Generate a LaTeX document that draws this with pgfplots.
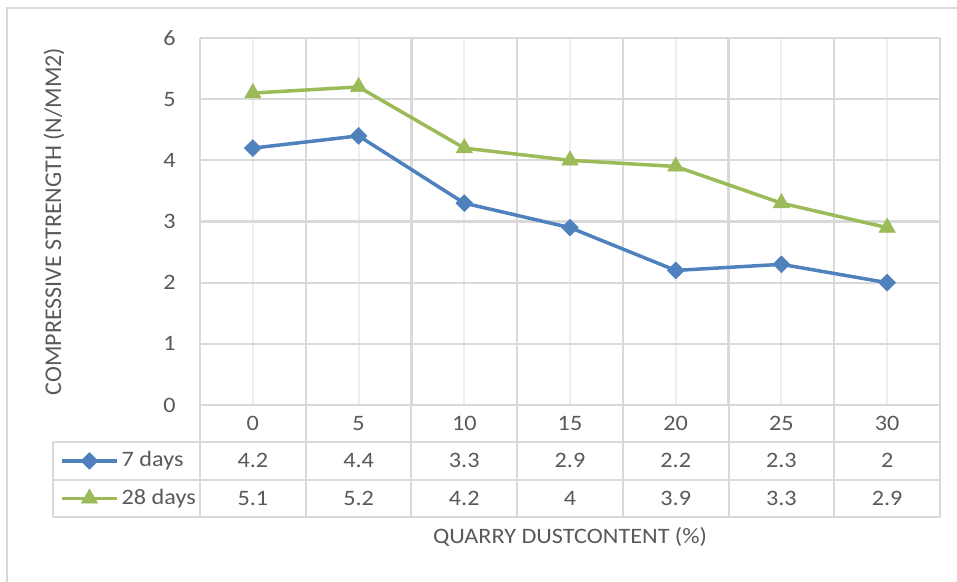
\documentclass[border=0pt]{standalone}
\usepackage{fontspec}
\setmainfont{Carlito}
\usepackage{pgfplots}
\usepackage{pgfplotstable}
\pgfplotsset{compat=1.18}
\definecolor{txt}{HTML}{595959}
\definecolor{gridd}{HTML}{D9D9D9}
\definecolor{gridl}{HTML}{EDEDED}
\definecolor{blueS}{HTML}{4F81BD}
\definecolor{greenS}{HTML}{9BBB59}
\newcommand\fs{\fontsize{22pt}{26pt}\selectfont}
\pgfplotstableread{
x d7 d28
0 4.2 5.1
5 4.4 5.2
10 3.3 4.2
15 2.9 4.0
20 2.2 3.9
25 2.3 3.3
30 2.0 2.9
}\datatable
\begin{document}
\begin{tikzpicture}[font=\fs]
\useasboundingbox (0pt,0pt) rectangle (957pt,-581pt);
% outer chart border
\draw[gridd, line width=1.5pt] (7pt,-590pt) -- (7pt,-8pt) -- (965pt,-8pt);
% data table lines
\draw[gridd, line width=2pt] (53pt,-442pt) -- (940pt,-442pt);
\draw[gridd, line width=2pt] (53pt,-480pt) -- (940pt,-480pt);
\draw[gridd, line width=2pt] (53pt,-517pt) -- (940pt,-517pt);
\draw[gridd, line width=2pt] (53pt,-442pt) -- (53pt,-517pt);
\foreach \xx in {200,305.7,411.4,517.1,622.9,728.6,834.3,940}{
  \draw[gridd, line width=2pt] (\xx pt,-405pt) -- (\xx pt,-517pt);
}
\begin{axis}[
  at={(200pt,-405pt)}, anchor=south west,
  scale only axis, width=740pt, height=367pt,
  xmin=-2.5, xmax=32.5, ymin=0, ymax=6,
  xtick={0,5,...,30}, ytick={0,1,...,6},
  minor xtick={-2.5,2.5,...,32.5},
  xmajorgrids, xminorgrids, ymajorgrids,
  major x grid style={gridl, line width=2pt},
  minor x grid style={gridd, line width=2.2pt},
  major y grid style={gridd, line width=2.2pt},
  axis line style={draw=none},
  major tick length=0pt, minor tick length=0pt,
  /pgf/number format/assume math mode=true,
  tick label style={font=\fs, text=txt, xscale=1.1},
  xticklabel style={anchor=base, yshift=-25.5pt},
  yticklabel style={anchor=east, inner sep=0pt, xshift=-22pt},
  ylabel={COMPRESSIVE STRENGTH (N/MM2)},
  ylabel style={at={(axis description cs:-0.1973,0.5)}, anchor=center,
    font=\fontsize{24pt}{28pt}\selectfont, text=txt},
  xlabel={QUARRY DUSTCONTENT (\%)},
  xlabel style={at={(axis description cs:0.5,-0.36)}, anchor=center, font=\fs, text=txt, xscale=1.1},
  clip=false,
  legend cell align=left,
  legend image code/.code={\draw[mark repeat=2,mark phase=2,#1] plot coordinates {(0pt,0pt)(27.5pt,0pt)(55pt,0pt)};},
  legend style={at={(axis description cs:-0.18919,-0.1008)}, anchor=north west,
    draw=none, fill=none, inner sep=0pt, row sep=0pt, column sep=3pt,
    font=\fs, text=txt,
    nodes={inner sep=0pt, text height=24.5pt, text depth=13pt, xscale=1.1}},
]
\addplot[blueS, line width=3.5pt, line join=round, mark=square*,
  mark size=6pt, mark options={rotate=45, line width=0.5pt, fill=blueS}]
  table[x=x, y=d7] {\datatable};
\addlegendentry{7 days}
\addplot[greenS, line width=3.5pt, line join=round, mark=triangle*,
  mark size=9.5pt, mark options={line width=0.5pt, fill=greenS}]
  table[x=x, y=d28] {\datatable};
\addlegendentry{28 days}
% data table values
\addplot[draw=none, mark=none, forget plot, nodes near coords, point meta=explicit,
  every node near coord/.append style={anchor=base, inner sep=0pt, text=txt, font=\fs, xscale=1.1}]
  table[x=x, y expr=-1.0136, meta=d7] {\datatable};
\addplot[draw=none, mark=none, forget plot, nodes near coords, point meta=explicit,
  every node near coord/.append style={anchor=base, inner sep=0pt, text=txt, font=\fs, xscale=1.1}]
  table[x=x, y expr=-1.643, meta=d28] {\datatable};
\end{axis}
\end{tikzpicture}
\end{document}
